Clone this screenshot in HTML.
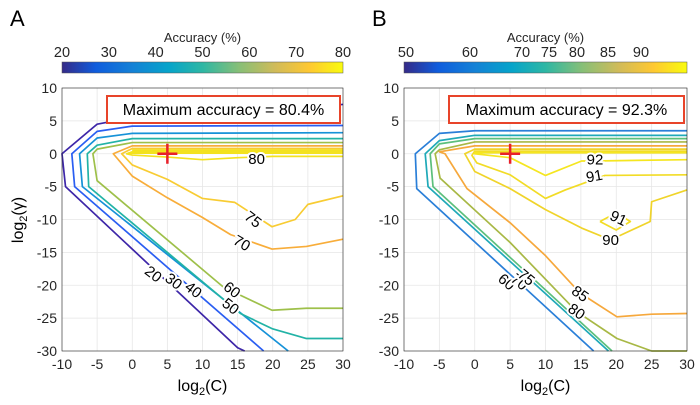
<!DOCTYPE html>
<html><head><meta charset="utf-8"><style>
html,body{margin:0;padding:0;background:#fff;width:700px;height:405px;overflow:hidden}
svg{display:block;font-family:"Liberation Sans",sans-serif}
</style></head><body>
<svg id="fig" width="700" height="405" viewBox="0 0 700 405">
<defs>
<linearGradient id="parula" x1="0" x2="1" y1="0" y2="0">
<stop offset="0" stop-color="#352a87"/><stop offset="0.12" stop-color="#0f5cdd"/><stop offset="0.25" stop-color="#1481d6"/>
<stop offset="0.38" stop-color="#06a4ca"/><stop offset="0.5" stop-color="#2eb7a4"/><stop offset="0.63" stop-color="#87bf77"/>
<stop offset="0.76" stop-color="#d1bb59"/><stop offset="0.88" stop-color="#fec832"/><stop offset="1" stop-color="#f9fb0e"/>
</linearGradient>
</defs>
<text x="10" y="26" font-size="22">A</text>
<text x="372" y="26" font-size="22">B</text>
<g id="layer"></g>
</svg>
<script>
// Panel A data (C = log2 C, g = log2 gamma)
const xTicks = [-10,-5,0,5,10,15,20,25,30];
const yTicks = [10,5,0,-5,-10,-15,-20,-25,-30];
const cbTicksA = [20,30,40,50,60,70,80];
const cbTicksB = [50,60,70,75,80,85,90];
const levelsA = [20,30,40,50,60,70,75,80];
const colorsA = ["#3d26a8","#2a5ef2","#1692d8","#22b3a6","#9ec04a","#f8ad3a","#f8cc33","#f3e21e"];
const contoursA = [
 [[30,7.5],[0,5.5],[-5,4.5],[-10,0],[-9.5,-5],[15,-29.5],[16,-30]],
 [[30,4.3],[0,4.2],[-5,3.4],[-8.6,0],[-8.2,-5],[18.7,-30]],
 [[30,3.2],[0,3.1],[-5,2.4],[-7.5,0],[-7.1,-5],[22.2,-30]],
 [[30,2.3],[0,2.3],[-5,1.3],[-6.4,0],[-6.2,-5],[15.4,-24.3],[19.9,-26.6],[24.8,-28.1],[30,-28.1]],
 [[30,1.7],[0,1.7],[-5,0.7],[-5.6,0],[-5,-4.1],[13,-20.3],[19.9,-23.8],[24.8,-23.5],[30,-23.5]],
 [[30,1.2],[0,1.2],[-2.7,0],[0,-3.4],[5,-6.7],[10,-9.7],[14,-12.3],[19.9,-14.5],[24.8,-14.1],[30,-13]],
 [[30,0.8],[0,0.8],[-1.5,0],[0,-1.7],[5,-3.9],[10,-6.8],[14.6,-7.4],[19.9,-11.1],[23.2,-10],[25,-7.7],[30,-6.4]],
 [[30,0.3],[0,0.3],[-0.8,0],[0,-0.2],[5,-0.5],[10,-0.9],[15,-0.6],[20,-0.4],[30,-0.4]]
];
const extraA = [[[0,0.55],[30,0.55]],[[-0.5,0.1],[30,0.1]]];
const labelsA = [["20",3,-18.3,38],["30",5.9,-19.4,38],["40",8.7,-20.7,38],["50",14,-23.2,38],["60",14.2,-20.7,38],["70",15.6,-13.6,30],["75",17.2,-10,38],["80",17.7,-0.8,0]];
// Panel B data
const levelsB = [60,70,75,80,85,90,91,92,91];
const colorsB = ["#2a7fd8","#1fa9b8","#5cbf7c","#a8b845","#f6a83c","#f0d42a","#f2dc26","#f5e620","#f2dc26"];
const contoursB = [
 [[30,3.5],[0,3.5],[-5,3.1],[-8.4,0],[-8.2,-5.3],[16.8,-30]],
 [[30,2.8],[0,2.8],[-5,2],[-7,0],[-6.6,-5],[18.9,-30]],
 [[30,2.3],[0,2.3],[-5,1.5],[-6.3,0],[-5.9,-5],[19.4,-30]],
 [[30,1.8],[0,1.8],[-5,0.6],[-5.6,0],[-4.9,-3.7],[5,-13.5],[14.4,-24],[20.1,-28.1],[25,-30],[30,-30]],
 [[30,1.2],[0,1.2],[-5,0.3],[-4.2,0],[-1.1,-5.3],[5,-10.5],[10,-15.5],[14.9,-21.2],[20.1,-24.8],[25,-24.4],[30,-24.3]],
 [[30,-5.5],[25,-7.3],[24.8,-10.3],[19.2,-13.1],[15.1,-11.3],[10,-8.5],[5,-5.3],[0,-2.7],[-1.4,0],[0,0.7],[30,0.7]],
 [[30,-3.2],[18.4,-3.3],[12.8,-5.5],[10,-6.8],[5,-3.2],[0.3,-1.4],[-0.4,-0.25],[0,0.4],[30,0.4]],
 [[30,-0.9],[17,-1.1],[15.1,-1.1],[10,-3.3],[5,-0.6],[0,0],[0,0.15],[30,0.15]],
 [[17.7,-10.3],[20,-11.6],[22,-10.3],[20,-9],[17.7,-10.3]]
];
const labelsB = [["60",4.5,-19.5,40],["70",6.3,-19.5,40],["75",7.3,-18.8,40],["85",14.9,-21.3,35],["80",14.4,-24,35],["90",19.2,-13.1,0],["91",16.9,-3.4,-10],["91",20.3,-9.8,25],["92",17,-0.9,0]];
const cbPosB = [406,470,522,549,577,608,641];

const NS="http://www.w3.org/2000/svg";
const layer=document.getElementById('layer');
function mk(tag,attrs,parent){const e=document.createElementNS(NS,tag);for(const k in attrs)e.setAttribute(k,attrs[k]);(parent||layer).appendChild(e);return e;}
const Y0=88,Y1=351;
function drawPanel(id,x0,x1,levels,colors,contours,extra,labels,best,cbTicks,cbPos){
 const sx=c=>x0+(c+10)/40*(x1-x0), sy=g=>Y0+(10-g)/40*(Y1-Y0);
 const g=mk('g',{});
 
 
 const bg=mk('rect',{x:x0,y:Y0,width:x1-x0,height:Y1-Y0,fill:'#fff'},g);
 
 
 xTicks.forEach(t=>{const l=mk('line',{x1:sx(t),x2:sx(t),y1:Y0,y2:Y1,stroke:'#e6e6e6','stroke-width':0.8},g);
  
  
  const tx=mk('text',{x:sx(t),y:Y1+18,'font-size':14,'text-anchor':'middle',fill:'#262626'},g);tx.textContent=t;
  
  });
 yTicks.forEach(t=>{const l=mk('line',{x1:x0,x2:x1,y1:sy(t),y2:sy(t),stroke:'#e6e6e6','stroke-width':0.8},g);
  
  
  const tx=mk('text',{x:x0-5,y:sy(t)+5,'font-size':14,'text-anchor':'end',fill:'#262626'},g);tx.textContent=t;
  
  });
 contours.forEach((pts,i)=>{const p=mk('polyline',{points:pts.map(q=>sx(q[0])+','+sy(q[1])).join(' '),fill:'none',stroke:colors[i],'stroke-width':1.7,'stroke-linejoin':'round'},g);
  
  });
 extra.forEach(pts=>{const p=mk('polyline',{points:pts.map(q=>sx(q[0])+','+sy(q[1])).join(' '),fill:'none',stroke:colors[colors.length-1],'stroke-width':1.7},g);
  
  });
 labels.forEach(L=>{const X=sx(L[1]),Yp=sy(L[2]);
  const t=mk('text',{x:X,y:Yp+5,'font-size':15,'text-anchor':'middle',fill:'#000',stroke:'#fff','stroke-width':4,'paint-order':'stroke',transform:`rotate(${L[3]} ${X} ${Yp})`},g);t.textContent=L[0];
  
  });
 const ax=mk('rect',{x:x0,y:Y0,width:x1-x0,height:Y1-Y0,fill:'none',stroke:'#262626','stroke-width':0.6},g);
 
 
 const bx=x0+45, bw=x1-x0-48;
 const br=mk('rect',{x:bx,y:96,width:bw,height:27,fill:'#fff',stroke:'#e8442a','stroke-width':2},g);
 
 
 const bt=mk('text',{x:bx+bw/2,y:115,'font-size':16,'text-anchor':'middle',fill:'#000'},g);bt.textContent='Maximum accuracy = '+best;
 
 
 const cx=sx(5),cy=sy(0);
 const pl=mk('path',{d:`M${cx-10},${cy}H${cx+10}M${cx},${cy-10}V${cy+10}`,stroke:'#e8202a','stroke-width':2.5},g);
 
 
 const xl=mk('text',{x:(x0+x1)/2,y:391,'font-size':16,'text-anchor':'middle'},g);xl.innerHTML='log<tspan font-size="11" dy="4">2</tspan><tspan dy="-4">(C)</tspan>';
 
 
 const cb=mk('rect',{x:x0,y:62,width:x1-x0,height:11,fill:'url(#parula)',stroke:'#555','stroke-width':0.5},g);
 
 
 cbTicks.forEach((t,i)=>{const X=cbPos?cbPos[i]:x0+(t-cbTicks[0])/(cbTicks[cbTicks.length-1]-cbTicks[0])*(x1-x0);
  const tx=mk('text',{x:X,y:57,'font-size':14.5,'text-anchor':'middle',fill:'#262626'},g);tx.textContent=t;
  
  });
 const ct=mk('text',{x:(x0+x1)/2,y:42,'font-size':13,'text-anchor':'middle',fill:'#262626'},g);ct.textContent='Accuracy (%)';
 
 
}
drawPanel('a',62,343,levelsA,colorsA,contoursA,extraA,labelsA,'80.4%',cbTicksA,null);
drawPanel('b',404,687,levelsB,colorsB,contoursB,[],labelsB,'92.3%',cbTicksB,cbPosB);
const yl=mk('text',{x:0,y:0,'font-size':16,'text-anchor':'middle',transform:'translate(23 220) rotate(-90)'});
yl.innerHTML='log<tspan font-size="11" dy="4">2</tspan><tspan dy="-4">(γ)</tspan>';


</script>
</body></html>
